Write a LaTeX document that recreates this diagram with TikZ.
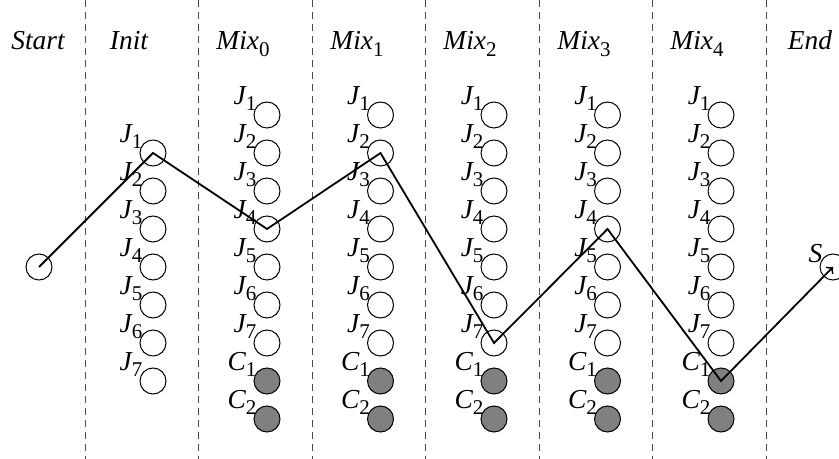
\documentclass[tikz,border=0pt]{standalone}
\usepackage{fontspec}
\setmainfont{Liberation Serif}
\usetikzlibrary{arrows,positioning}
\newcommand{\idx}[1]{\raisebox{-0.5ex}{\fontsize{10.5}{11}\selectfont\upshape#1}}

\begin{document}
\begin{tikzpicture}[x=0.5pt,y=-0.5pt,>=to,line width=0.9pt,
                    font=\fontsize{13.7}{16}\selectfont]
\tikzstyle{job}=[circle,line width=0.5pt,draw=black,minimum size=13pt,inner sep=0pt]
\tikzstyle{crane}=[job,fill=gray]
\tikzstyle{sep}=[line width=0.5pt,dash pattern=on 3.5pt off 2.5pt,gray!60!black]
\tikzstyle{head}=[anchor=base,font=\fontsize{13.7}{16}\selectfont\itshape]
\tikzstyle{lab}=[label distance=-5pt,yshift=-2.5pt]
\useasboundingbox (0,0) rectangle (839,459);
% stage separators
\foreach \x in {85,198.5,312,425.5,539,652.5,766}
  \draw[sep] (\x,0) -- (\x,459);
% stage titles
\node[head] (hstart) at (38,50) {Start};
\node[head] (hinit) at (129,50) {Init};
\foreach \k/\x in {0/243,1/357,2/470,3/584,4/697}
  \node[head] (hmix\k) at (\x,50) {Mix\idx{\k}};
\node[head] (hend) at (810,50) {End};
% start and goal
\node[job] (start) at (39,267) {};
\node[job,label={[lab]150:{\itshape S}}] (goal) at (833,267) {};
% init column
\foreach \j in {1,...,7}
  \node[job,label={[lab]150:{\itshape J}\idx{\j}}] (init\j) at (153,{153+38*(\j-1)}) {};
% mix columns
\foreach \k/\x in {0/267,1/380.5,2/494,3/607.5,4/721} {
  \foreach \j in {1,...,7}
    \node[job,label={[lab]150:{\itshape J}\idx{\j}}] (mix\k-\j) at (\x,{115+38*(\j-1)}) {};
  \foreach \c in {1,2}
    \node[crane,label={[lab]150:{\itshape C}\idx{\c}}] (mix\k-c\c) at (\x,{115+38*(\c+6)}) {};
}
% route
\draw[->] (start.center) -- (init1.center) -- (mix0-4.center) -- (mix1-2.center)
  -- (mix2-7.center) -- (mix3-4.center) -- (mix4-c1.center) -- (goal.center);
\end{tikzpicture}
\end{document}
